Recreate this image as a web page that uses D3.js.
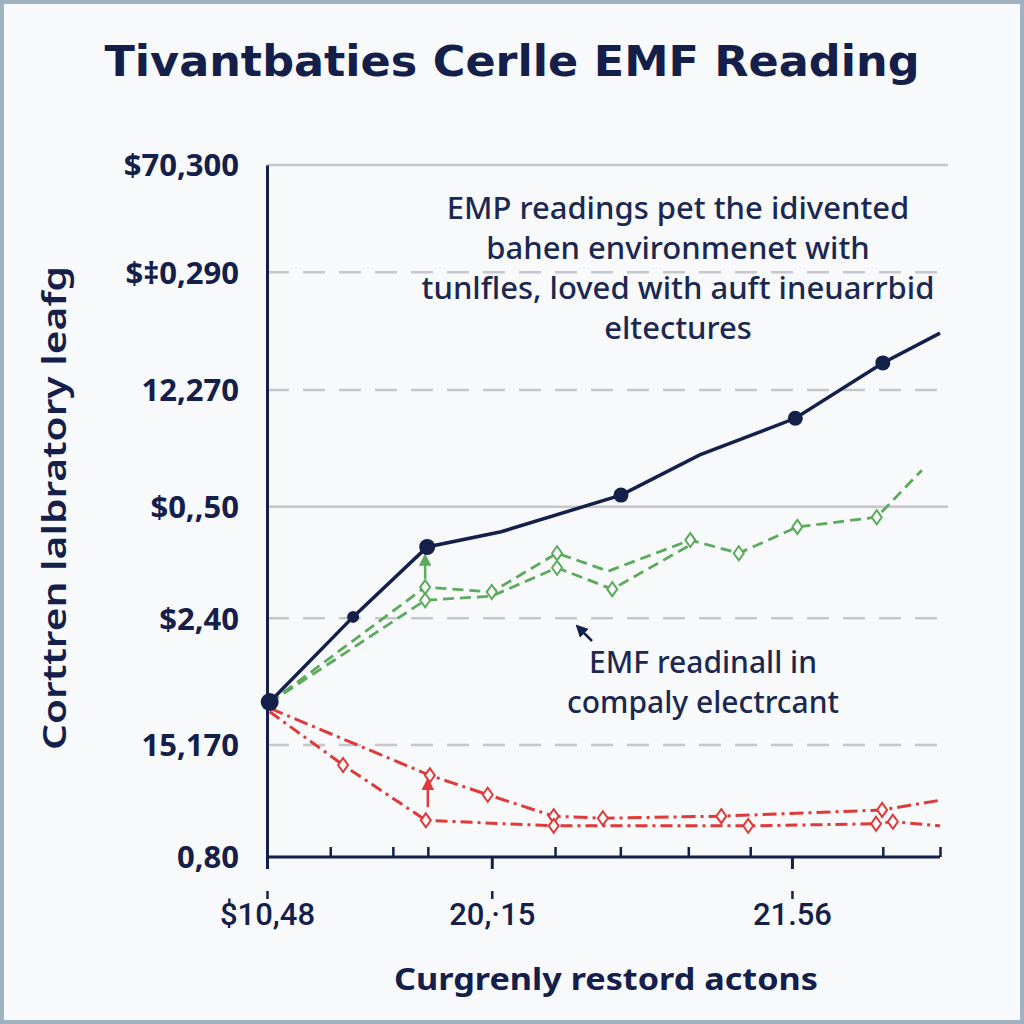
<!DOCTYPE html>
<html><head><meta charset="utf-8">
<script src="https://cdn.jsdelivr.net/npm/d3@7"></script>
<style>html,body{margin:0;padding:0;background:#f7f8fa;}svg{display:block;}</style>
</head><body>
<script>
// ---------- data ----------
const titleText = "Tivantbaties Cerlle EMF Reading";
const yAxisTitle = "Corttren lalbratory leafg";
const xAxisTitle = "Curgrenly restord actons";
const yTickValues = [0, 16.2, 34.5, 50.6, 67.5, 84.5, 100];
const yTickLabels = ["0,80", "15,170", "$2,40", "$0,\u201a50", "12,270", "$\u20210,290", "$70,300"];
const yGridStyle = ["none", "dash", "dash", "solid", "dash", "dash", "solid"];
const xMinorTicks = [9.4, 18.7, 23.9, 42.8, 52.5, 62.6, 71.8, 91.5, 100];
const xMajorTicks = [0, 33.4, 78.0];
const xTickLabels = ["$10,48", "20,\u00b715", "21.56"];

const navyX = [0.4, 12.8, 23.8, 34.8, 52.6, 64.3, 78.5, 91.5, 100];
const navyY = [22.4, 34.7, 44.8, 47.0, 52.3, 58.1, 63.4, 71.4, 75.7];
const navyMarker = [9, 6, 8, 0, 7.5, 0, 7.5, 7.5, 0];

const greenUpX = [0.4, 23.5, 33.4, 43.1, 50.7, 62.9, 70.1, 78.8, 90.6, 97.3];
const greenUpY = [22.3, 39.0, 38.3, 43.9, 41.3, 45.8, 43.9, 47.7, 49.1, 55.9];
const greenUpMarker = [0, 1, 1, 1, 0, 1, 1, 1, 1, 0];
const greenLoX = [0.4, 23.5, 33.4, 43.1, 51.3, 62.9];
const greenLoY = [22.3, 37.1, 37.7, 41.8, 38.7, 45.1];
const greenLoMarker = [0, 1, 0, 1, 1, 0];

const redUpX = [0.4, 24.2, 32.8, 42.6, 49.9, 67.5, 91.4, 100];
const redUpY = [21.5, 11.8, 9.0, 5.9, 5.6, 5.9, 6.8, 8.2];
const redUpMarker = [0, 1, 1, 1, 1, 1, 1, 0];
const redLoX = [0.4, 11.3, 23.6, 42.6, 71.5, 90.5, 93.0, 100];
const redLoY = [21.0, 13.3, 5.3, 4.5, 4.5, 4.8, 5.1, 4.5];
const redLoMarker = [0, 1, 1, 1, 1, 1, 1, 0];

const noteTop = ["EMP readings pet the idivented", "bahen environmenet with", "tunlfles, loved with auft ineuarrbid", "eltectures"];
const noteBottom = ["EMF readinall in", "compaly electrcant"];

// ---------- layout ----------
const W = 1024, H = 1024;
const navy = "#14204a";
const green = "#5caa5c";
const red = "#de3a3a";
const svg = d3.select("body").append("svg").attr("width", W).attr("height", H);

svg.append("rect").attr("x", 2).attr("y", 2).attr("width", W - 4).attr("height", H - 4)
  .attr("fill", "#f8f9fb").attr("stroke", "#9fb0bf").attr("stroke-width", 4);

const x = d3.scaleLinear().domain([0, 100]).range([267, 940]);
const y = d3.scaleLinear().domain([0, 100]).range([857, 165]);

// title
svg.append("text").attr("x", 512).attr("y", 76).attr("text-anchor", "middle")
  .attr("font-family", "DejaVu Sans").attr("font-weight", "bold").attr("font-size", 43)
  .attr("fill", navy).attr("textLength", 815).attr("lengthAdjust", "spacingAndGlyphs")
  .text(titleText);

// gridlines
const grid = svg.append("g");
yTickValues.forEach((v, i) => {
  if (yGridStyle[i] === "none") return;
  grid.append("line").attr("x1", x(0)).attr("x2", 948).attr("y1", y(v)).attr("y2", y(v))
    .attr("stroke", "#c4c8cc").attr("stroke-width", 2.5)
    .attr("stroke-dasharray", yGridStyle[i] === "dash" ? "22,14" : null);
});

// y axis
const yAxis = d3.axisLeft(y).tickValues(yTickValues).tickFormat((d, i) => yTickLabels[i]).tickSize(0).tickPadding(28);
const gy = svg.append("g").attr("transform", `translate(${x(0)},0)`).call(yAxis);
gy.select(".domain").attr("stroke", navy).attr("stroke-width", 3);
gy.selectAll("text").attr("font-family", "Open Sans").attr("font-weight", 700).attr("font-size", 31)
  .attr("fill", navy).attr("dy", "0.35em");

// x axis minor ticks (inward)
const xAxisMinor = d3.axisBottom(x).tickValues(xMinorTicks).tickSize(-10).tickFormat("");
const gx = svg.append("g").attr("transform", `translate(0,${y(0)})`).call(xAxisMinor);
gx.select(".domain").attr("stroke", navy).attr("stroke-width", 3).attr("d", `M${x(0)},0H${x(100)}`);
gx.selectAll(".tick line").attr("stroke", navy).attr("stroke-width", 2.5);

// x axis major ticks & labels
const xAxisMajor = d3.axisBottom(x).tickValues(xMajorTicks).tickFormat((d, i) => xTickLabels[i]).tickSize(12).tickPadding(30);
const gx2 = svg.append("g").attr("transform", `translate(0,${y(0)})`).call(xAxisMajor);
gx2.select(".domain").remove();
gx2.selectAll(".tick line").attr("stroke", navy).attr("stroke-width", 3);
gx2.selectAll(".tick").append("line").attr("y1", 34).attr("y2", 42).attr("stroke", navy).attr("stroke-width", 2.5);
gx2.selectAll("text").attr("font-family", "Roboto").attr("font-weight", 500).attr("font-size", 31)
  .attr("fill", navy).attr("dy", "0.85em");

// axis titles
svg.append("text").attr("transform", `translate(66,508) rotate(-90)`).attr("text-anchor", "middle")
  .attr("font-family", "Noto Sans").attr("font-weight", 600).attr("font-size", 32).attr("fill", navy)
  .attr("textLength", 484).attr("lengthAdjust", "spacingAndGlyphs").text(yAxisTitle);
svg.append("text").attr("x", 606).attr("y", 990).attr("text-anchor", "middle")
  .attr("font-family", "Noto Sans").attr("font-weight", 700).attr("font-size", 30).attr("fill", navy)
  .attr("textLength", 424).attr("lengthAdjust", "spacingAndGlyphs").text(xAxisTitle);

// arrow markers
const defs = svg.append("defs");
function arrowDef(id, color) {
  defs.append("marker").attr("id", id).attr("viewBox", "0 0 10 10").attr("refX", 5).attr("refY", 5)
    .attr("markerWidth", 5).attr("markerHeight", 5).attr("orient", "auto")
    .append("path").attr("d", "M0,0L10,5L0,10z").attr("fill", color);
}
arrowDef("ag", green); arrowDef("ar", red); arrowDef("an", navy);

const line = d3.line().x(d => x(d[0])).y(d => y(d[1])).curve(d3.curveLinear);
function zip(a, b) { return a.map((v, i) => [v, b[i]]); }

function series(xs, ys, color, dash, width) {
  svg.append("path").datum(zip(xs, ys)).attr("d", line).attr("fill", "none")
    .attr("stroke", color).attr("stroke-width", width).attr("stroke-dasharray", dash);
}
function hollow(xs, ys, flags, color) {
  const pts = zip(xs, ys).filter((d, i) => flags[i]);
  svg.append("g").selectAll("path").data(pts).join("path")
    .attr("transform", d => `translate(${x(d[0])},${y(d[1])})`)
    .attr("d", "M0,-7L5,0L0,7L-5,0Z").attr("fill", "#f8f9fb").attr("stroke", color).attr("stroke-width", 2);
}
// red series
series(redUpX, redUpY, red, "14,5,3,5", 3);
series(redLoX, redLoY, red, "12,5,3,5", 3);
hollow(redUpX, redUpY, redUpMarker, red);
hollow(redLoX, redLoY, redLoMarker, red);

// green series
series(greenUpX, greenUpY, green, "11,6", 2.8);
series(greenLoX, greenLoY, green, "11,6", 2.8);
hollow(greenUpX, greenUpY, greenUpMarker, green);
hollow(greenLoX, greenLoY, greenLoMarker, green);

// small arrows
svg.append("line").attr("x1", x(23.9)).attr("x2", x(23.9)).attr("y1", y(7.2)).attr("y2", y(10.6))
  .attr("stroke", red).attr("stroke-width", 2.5).attr("marker-end", "url(#ar)");
svg.append("line").attr("x1", x(23.5)).attr("x2", x(23.5)).attr("y1", y(40.2)).attr("y2", y(43.0))
  .attr("stroke", green).attr("stroke-width", 2.5).attr("marker-end", "url(#ag)");

// navy series
series(navyX, navyY, navy, null, 3.5);
svg.append("g").selectAll("circle").data(zip(navyX, navyY).map((d, i) => [d[0], d[1], navyMarker[i]]).filter(d => d[2] > 0))
  .join("circle").attr("cx", d => x(d[0])).attr("cy", d => y(d[1])).attr("r", d => d[2]).attr("fill", navy);

// annotations
const noteG = svg.append("text").attr("text-anchor", "middle").attr("font-family", "Noto Sans")
  .attr("font-weight", 500).attr("font-size", 31).attr("fill", "#1b2850");
noteTop.forEach((t, i) => noteG.append("tspan").attr("x", 678).attr("y", 219 + i * 40).text(t));

const noteB = svg.append("text").attr("text-anchor", "middle").attr("font-family", "Noto Sans")
  .attr("font-weight", 500).attr("font-size", 30).attr("fill", "#1b2850");
noteBottom.forEach((t, i) => noteB.append("tspan").attr("x", 703).attr("y", 673 + i * 40).text(t));

svg.append("line").attr("x1", 592).attr("y1", 641).attr("x2", 580).attr("y2", 629)
  .attr("stroke", navy).attr("stroke-width", 2.5).attr("marker-end", "url(#an)");
</script>
</body></html>
